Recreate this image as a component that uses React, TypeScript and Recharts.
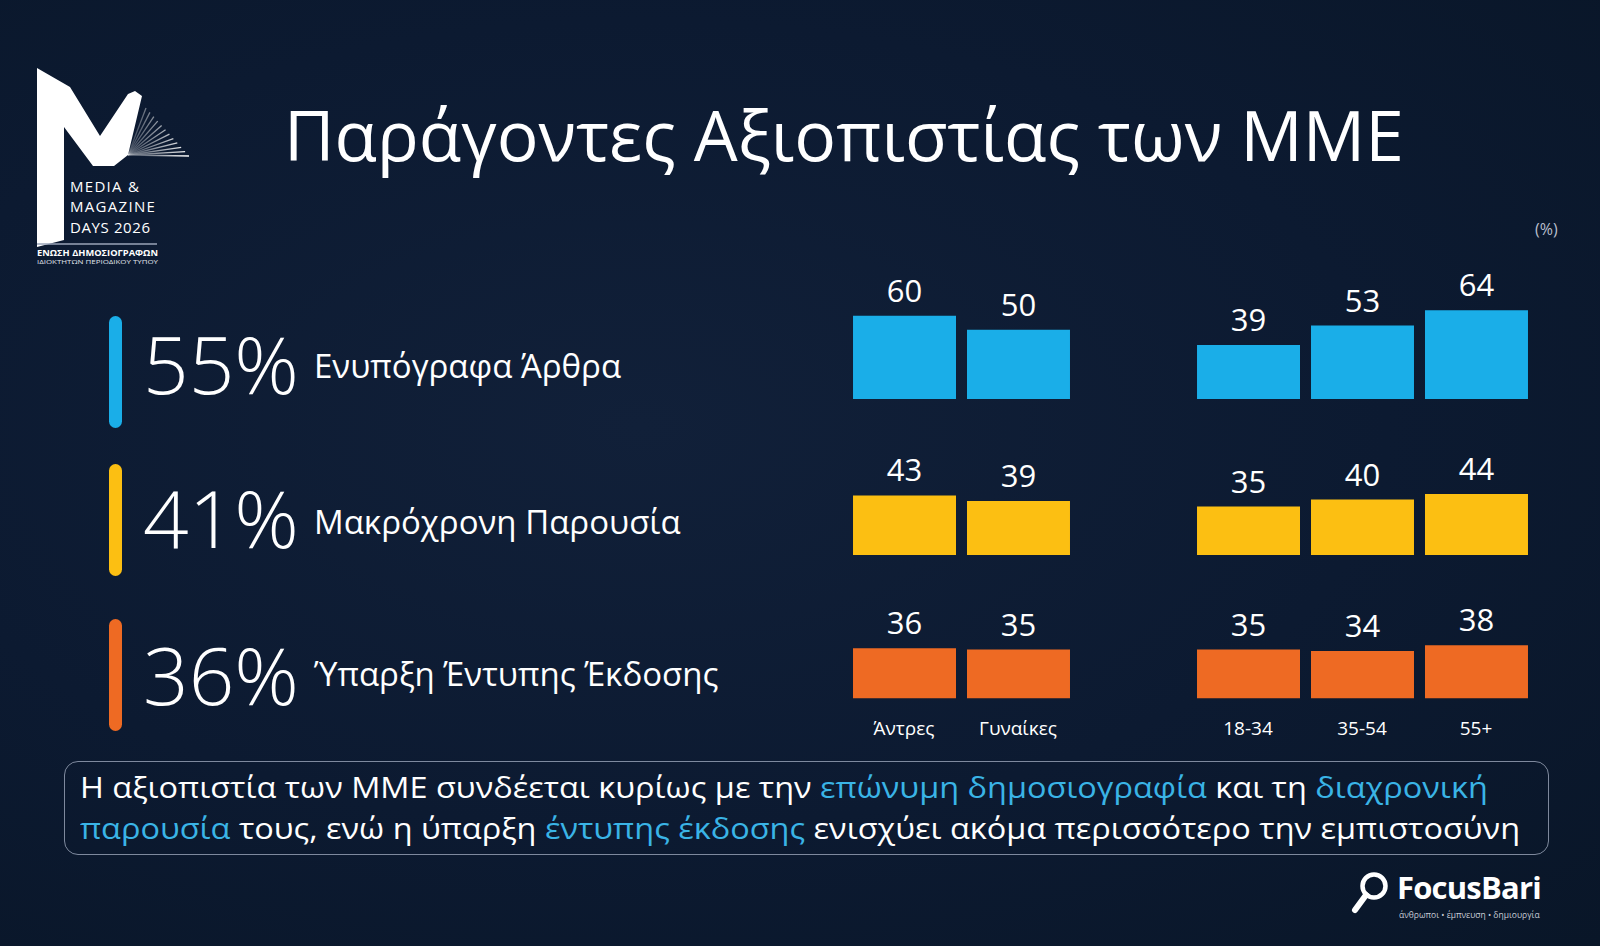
import React from 'react';
import { BarChart, Bar, XAxis, YAxis, LabelList } from 'recharts';

const FONT = '"Open Sans", "Noto Sans", sans-serif';

// Breakdown categories
const genderGroups = ['Άντρες', 'Γυναίκες'];
const ageGroups = ['18-34', '35-54', '55+'];

// Credibility factors with their overall share (%)
const factorNames = ['Ενυπόγραφα Άρθρα', 'Μακρόχρονη Παρουσία', 'Ύπαρξη Έντυπης Έκδοσης'];
const factorTotals = [55, 41, 36];
const factorColors = ['#1aaee8', '#fcbf12', '#ee6a23'];

// Per-group values (%)
const signedByGender = [60, 50];
const presenceByGender = [43, 39];
const printByGender = [36, 35];
const signedByAge = [39, 53, 64];
const presenceByAge = [35, 40, 44];
const printByAge = [35, 34, 38];

const genderRows = [signedByGender, presenceByGender, printByGender];
const ageRows = [signedByAge, presenceByAge, printByAge];

// Layout of the small bar panels
const DOMAIN_MAX = 80;
const PLOT_H = 111.2;
const TOP_M = 40;
const AXIS_H = 45;
const BAND = 114;
const BAR_W = 103;
const rowBottoms = [399, 555, 698];
const bigBaselines = [394, 548, 705];
const nameBaselines = [378, 534, 686];
const pillTops = [316, 464, 619];

type MiniProps = {
  names: string[];
  values: number[];
  color: string;
  showAxis: boolean;
  left: number;
  bottom: number;
};

function MiniBars({ names, values, color, showAxis, left, bottom }: MiniProps) {
  const data = names.map((name, i) => ({ name, value: values[i] }));
  const width = BAND * names.length;
  const height = TOP_M + PLOT_H + (showAxis ? AXIS_H : 0);
  return (
    <div style={{ position: 'absolute', left, top: bottom - PLOT_H - TOP_M, width, height }}>
      <BarChart
        width={width}
        height={height}
        data={data}
        margin={{ top: TOP_M, right: 0, bottom: 0, left: 0 }}
        barCategoryGap={0}
      >
        <XAxis
          dataKey="name"
          hide={!showAxis}
          height={showAxis ? AXIS_H : 0}
          tickLine={false}
          axisLine={false}
          tickMargin={17}
          interval={0}
          tick={{ fill: '#ffffff', fontSize: 19, fontFamily: FONT }}
        />
        <YAxis hide domain={[0, DOMAIN_MAX]} />
        <Bar dataKey="value" fill={color} barSize={BAR_W} isAnimationActive={false}>
          <LabelList
            dataKey="value"
            position="top"
            offset={14}
            fill="#ffffff"
            fontSize={31}
            fontFamily={FONT}
          />
        </Bar>
      </BarChart>
    </div>
  );
}

// Rays of the small fan in the event logo
const fanEnds = Array.from({ length: 12 }, (_, i) => {
  const t = i / 11;
  return { x: 146 + t * 43, y: 108 + t * 48 };
});

const accent = { color: '#3ab4e6' };
const noteLine: React.CSSProperties = {
  position: 'absolute',
  left: 80,
  fontSize: 29.5,
  lineHeight: '40px',
  whiteSpace: 'nowrap',
  transform: 'scaleX(1.1)',
  transformOrigin: '0 50%',
};

export default function App() {
  return (
    <div
      style={{
        position: 'absolute',
        left: 0,
        top: 0,
        width: 1600,
        height: 946,
        overflow: 'hidden',
        background: 'radial-gradient(ellipse at 40% 45%, #112039 0%, #0c1a31 55%, #091628 100%)',
        fontFamily: FONT,
        color: '#ffffff',
      }}
    >
      <svg width={1600} height={946} style={{ position: 'absolute', left: 0, top: 0 }}>
        <defs>
          <linearGradient id="fan" gradientUnits="userSpaceOnUse" x1={127} y1={0} x2={190} y2={0}>
            <stop offset="0" stopColor="#ffffff" stopOpacity={0.15} />
            <stop offset="1" stopColor="#ffffff" stopOpacity={1} />
          </linearGradient>
        </defs>

        {/* Event logo */}
        <polygon
          points="37,68 70,87 100,136 128,94 135,91 142,96 128,155 114,166 93,166 64,127 64,240 37,247"
          fill="#ffffff"
        />
        {fanEnds.map((p, i) => (
          <line key={i} x1={128} y1={155} x2={p.x} y2={p.y} stroke="url(#fan)" strokeWidth={1.3} />
        ))}
        <text x={70} y={192} fontSize={15} fontWeight={500} letterSpacing={1.3} fill="#ffffff" fontFamily={FONT}>MEDIA &amp;</text>
        <text x={70} y={212} fontSize={15} fontWeight={500} letterSpacing={1.3} fill="#ffffff" fontFamily={FONT}>MAGAZINE</text>
        <text x={70} y={233} fontSize={15} fontWeight={500} letterSpacing={0.6} fill="#ffffff" fontFamily={FONT}>DAYS 2026</text>
        <line x1={37} y1={244} x2={157} y2={244} stroke="#9aa4b8" strokeWidth={1.5} />
        <text x={37} y={256} fontSize={8.5} fontWeight={700} fill="#ffffff" fontFamily={FONT} textLength={121} lengthAdjust="spacingAndGlyphs">ΕΝΩΣΗ ΔΗΜΟΣΙΟΓΡΑΦΩΝ</text>
        <text x={37} y={264} fontSize={6} fill="#e0e4ec" fontFamily={FONT} textLength={121} lengthAdjust="spacingAndGlyphs">ΙΔΙΟΚΤΗΤΩΝ ΠΕΡΙΟΔΙΚΟΥ ΤΥΠΟΥ</text>

        {/* Title */}
        <text x={284} y={161} fontSize={69.5} fill="#ffffff" fontFamily={FONT}>Παράγοντες Αξιοπιστίας των ΜΜΕ</text>
        <text x={1535} y={235} fontSize={16} fill="#b9bfcc" fontFamily={FONT}>(%)</text>

        {/* Factor headline figures */}
        {factorNames.map((name, i) => (
          <g key={name}>
            <rect x={109} y={pillTops[i]} width={13} height={112} rx={6.5} fill={factorColors[i]} />
            <text x={143} y={bigBaselines[i]} fontSize={80} fontWeight={300} fill="#ffffff" fontFamily={FONT}>
              {factorTotals[i]}%
            </text>
            <text x={314} y={nameBaselines[i]} fontSize={33} fill="#ffffff" fontFamily={FONT}>
              {name}
            </text>
          </g>
        ))}

        {/* Survey firm mark */}
        <circle cx={1374} cy={886} r={11.5} fill="none" stroke="#ffffff" strokeWidth={4.5} />
        <line x1={1366} y1={895} x2={1355} y2={910} stroke="#ffffff" strokeWidth={6} strokeLinecap="round" />
        <text x={1397} y={899} fontSize={31} fontWeight={700} letterSpacing={-0.8} fill="#ffffff" fontFamily={FONT}>FocusBari</text>
        <text x={1399} y={918} fontSize={8.5} fill="#c8ccd6" fontFamily={FONT}>άνθρωποι • έμπνευση • δημιουργία</text>
      </svg>

      {genderRows.map((vals, r) => (
        <MiniBars
          key={`g${r}`}
          names={genderGroups}
          values={vals}
          color={factorColors[r]}
          showAxis={r === 2}
          left={852 - (BAND - BAR_W) / 2}
          bottom={rowBottoms[r]}
        />
      ))}
      {ageRows.map((vals, r) => (
        <MiniBars
          key={`a${r}`}
          names={ageGroups}
          values={vals}
          color={factorColors[r]}
          showAxis={r === 2}
          left={1196 - (BAND - BAR_W) / 2}
          bottom={rowBottoms[r]}
        />
      ))}

      {/* Takeaway box */}
      <div
        style={{
          position: 'absolute',
          left: 64,
          top: 761,
          width: 1485,
          height: 94,
          boxSizing: 'border-box',
          border: '1.5px solid rgba(175,185,205,0.7)',
          borderRadius: 14,
        }}
      />
      <div style={{ ...noteLine, top: 767 }}>
        Η αξιοπιστία των ΜΜΕ συνδέεται κυρίως με την <span style={accent}>επώνυμη δημοσιογραφία</span> και τη <span style={accent}>διαχρονική</span>
      </div>
      <div style={{ ...noteLine, top: 808 }}>
        <span style={accent}>παρουσία</span> τους, ενώ η ύπαρξη <span style={accent}>έντυπης έκδοσης</span> ενισχύει ακόμα περισσότερο την εμπιστοσύνη
      </div>
    </div>
  );
}
